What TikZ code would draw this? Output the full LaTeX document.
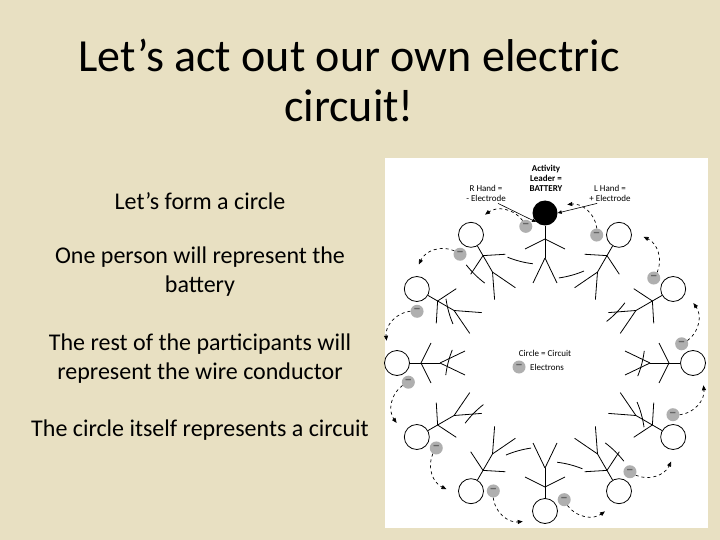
\documentclass[tikz,border=0pt]{standalone}
\usepackage{fontspec}
\setmainfont{Carlito}
\usetikzlibrary{calc,arrows.meta}
\definecolor{parch}{RGB}{232,224,194}
\definecolor{elec}{RGB}{175,175,175}
\tikzset{
  fig/.style={line width=0.8pt,black},
  elecnode/.style={circle,fill=elec,inner sep=0pt,minimum size=13pt,font=\fontsize{14}{14}\selectfont\bfseries,text=black!60},
  flow/.style={dashed,line width=0.7pt,-{Triangle[length=5pt,width=4pt]}},
  body/.style={font=\fontsize{24}{29}\selectfont,align=center},
  lab/.style={font=\fontsize{9}{10}\selectfont,align=center,inner sep=0pt}
}
\begin{document}
\begin{tikzpicture}[x=1pt,y=-1pt]
\useasboundingbox (0,0) rectangle (720,540);
\fill[parch] (0,0) rectangle (720,540);
\node[font=\fontsize{46}{50}\selectfont,align=center] (title) at (349,80) {Let’s act out our own electric\\circuit!};
\node[body] (t1) at (200,201) {Let’s form a circle};
\node[body] (t2) at (200,272) {One person will represent the\\battery};
\node[body] (t3) at (200,359) {The rest of the participants will\\represent the wire conductor};
\node[body] (t4) at (200,430) {The circle itself represents a circuit};
\fill[white] (385,158) rectangle (708,528);
\coordinate (c) at (545,363);
\foreach \i in {0,...,11}{
  \pgfmathsetmacro{\a}{-90+30*\i}
  \pgfmathsetmacro{\na}{\a-30}
  \ifnum\i=0
    \node[circle,fill=black,minimum size=25pt,inner sep=0pt] (h\i) at ($(c)+(\a:150)$) {};
  \else
    \node[circle,draw,fig,minimum size=25pt,inner sep=0pt] (h\i) at ($(c)+(\a:148)$) {};
  \fi
  \draw[fig] (h\i) -- ($(c)+(\a:105)$) coordinate (hip\i);
  \draw[fig] ($(c)+(\a:114)+(\a+90:20)$) -- ($(c)+(\a:124)$) -- ($(c)+(\a:114)+(\a-90:20)$);
  \draw[fig] (hip\i) -- ($(c)+(\a:80)+(\a+90:12)$);
  \draw[fig] (hip\i) -- ($(c)+(\a:80)+(\a-90:12)$);
  \draw[fig] ($(c)+(\a-7:100)$) arc[start angle=\a-7,end angle=\a-22,radius=100pt];
  \node[elecnode] (e\i) at ($(c)+(\a-8:138)$) {−};
  \coordinate (t\i) at ($(c)+(\na+8:160)$);
  \draw[flow] (e\i) to[bend right=45] (t\i);
}
\node[lab,font=\fontsize{9}{10}\selectfont\bfseries] (lead) at (546,178) {Activity\\Leader =\\BATTERY};
\node[lab] (rh) at (486,193) {R Hand =\\- Electrode};
\node[lab] (lh) at (610,193) {L Hand =\\+ Electrode};
\draw[-{Triangle[length=4pt,width=3.5pt]},line width=0.6pt] (rh.south east) ++(-8,2) coordinate (rs) -- (h0.south west);
\draw[-{Triangle[length=4pt,width=3.5pt]},line width=0.6pt] (lh.south west) ++(8,2) coordinate (ls) -- (h0.east);
\node[lab] (circ) at (545,353) {Circle = Circuit};
\node[elecnode] (le) at (519,367) {−};
\node[lab,anchor=west] (ltxt) at (530,367) {Electrons};
\end{tikzpicture}
\end{document}
